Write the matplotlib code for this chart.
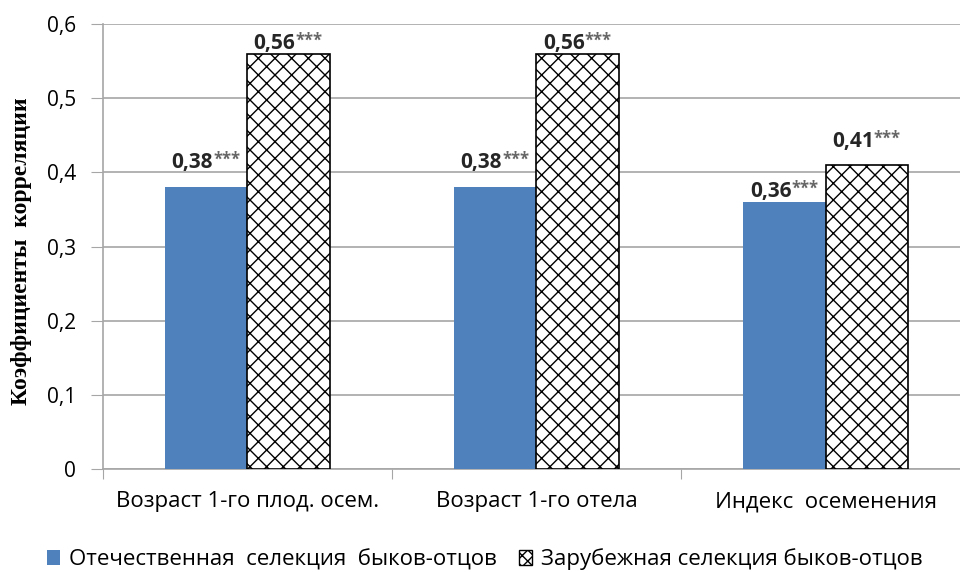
import numpy as np
import matplotlib.pyplot as plt
from matplotlib.patches import Patch

# traits and correlation coefficients for the two sire groups
traits = ["Возраст 1-го плод. осем.", "Возраст 1-го отела", "Индекс  осеменения"]
domestic = [0.38, 0.38, 0.36]
foreign = [0.56, 0.56, 0.41]
stars = ["***", "***", "***"]
yticks = [0, 0.1, 0.2, 0.3, 0.4, 0.5, 0.6]

# extra lift (points) of each value label above its bar
lift_dom = [10, 10, 0]
lift_for = [0, 0, 9.5]

plt.rcParams["font.family"] = ["Open Sans", "DejaVu Sans"]
plt.rcParams["hatch.linewidth"] = 1.0

fig = plt.figure(figsize=(9.6, 5.72), dpi=100)
ax = fig.add_axes([0.107, 0.18, 0.893, 0.778])

x = np.arange(len(traits))
w = 0.285
b1 = ax.bar(x - w / 2, domestic, w, color="#4F81BD", zorder=3)
b2 = ax.bar(x + w / 2, foreign, w, color="white", edgecolor="black",
            hatch="xx", linewidth=1.2, zorder=3)

# value labels: number plus raised significance stars
for bars, vals, lifts in [(b1, domestic, lift_dom), (b2, foreign, lift_for)]:
    for bar, v, s, dy in zip(bars, vals, stars, lifts):
        cx = bar.get_x() + bar.get_width() / 2
        txt = ("%.2f" % v).replace(".", ",")
        ax.annotate(txt, (cx, v), xytext=(5, dy), textcoords="offset points",
                    ha="right", va="bottom", fontsize=15, fontweight="bold",
                    color="#262626", zorder=5)
        ax.annotate(s, (cx, v), xytext=(5, dy + 3), textcoords="offset points",
                    ha="left", va="bottom", fontsize=12, fontweight="bold",
                    color="#666666", zorder=5)

ax.set_ylim(0, 0.6)
ax.set_xlim(-0.5, 2.465)
ax.set_yticks(yticks)
ax.set_yticklabels([("%.1f" % t).replace(".", ",") if t else "0" for t in yticks],
                   fontsize=15)
ax.grid(axis="y", color="#A6A6A6", linewidth=1.2, zorder=0)

# category ticks sit on the boundaries, labels in the middle
ax.set_xticks(x - 0.5, minor=False)
ax.set_xticklabels([])
ax.set_xticks(x, minor=True)
ax.set_xticklabels(traits, minor=True, fontsize=16)
ax.tick_params(axis="x", which="minor", length=0, pad=16)
ax.tick_params(axis="x", which="major", length=7, color="#A6A6A6")
ax.tick_params(axis="y", length=9, color="#A6A6A6", pad=10)

for side in ["top", "right"]:
    ax.spines[side].set_visible(False)
for side in ["left", "bottom"]:
    ax.spines[side].set_color("#A6A6A6")
    ax.spines[side].set_linewidth(1.2)

ax.set_ylabel("Коэффициенты  корреляции", family="Liberation Serif",
              fontweight="bold", fontsize=17)
ax.yaxis.set_label_coords(-0.082, 0.49)

handles = [Patch(facecolor="#4F81BD"),
           Patch(facecolor="white", edgecolor="black", hatch="xxx")]
fig.legend(handles, ["Отечественная  селекция  быков-отцов",
                     "Зарубежная селекция быков-отцов"],
           loc="center", bbox_to_anchor=(0.505, 0.022), ncol=2, frameon=False,
           fontsize=16, handlelength=0.6, handleheight=0.7, handletextpad=0.4,
           columnspacing=1.0)

fig.savefig("out.png", dpi=100)
